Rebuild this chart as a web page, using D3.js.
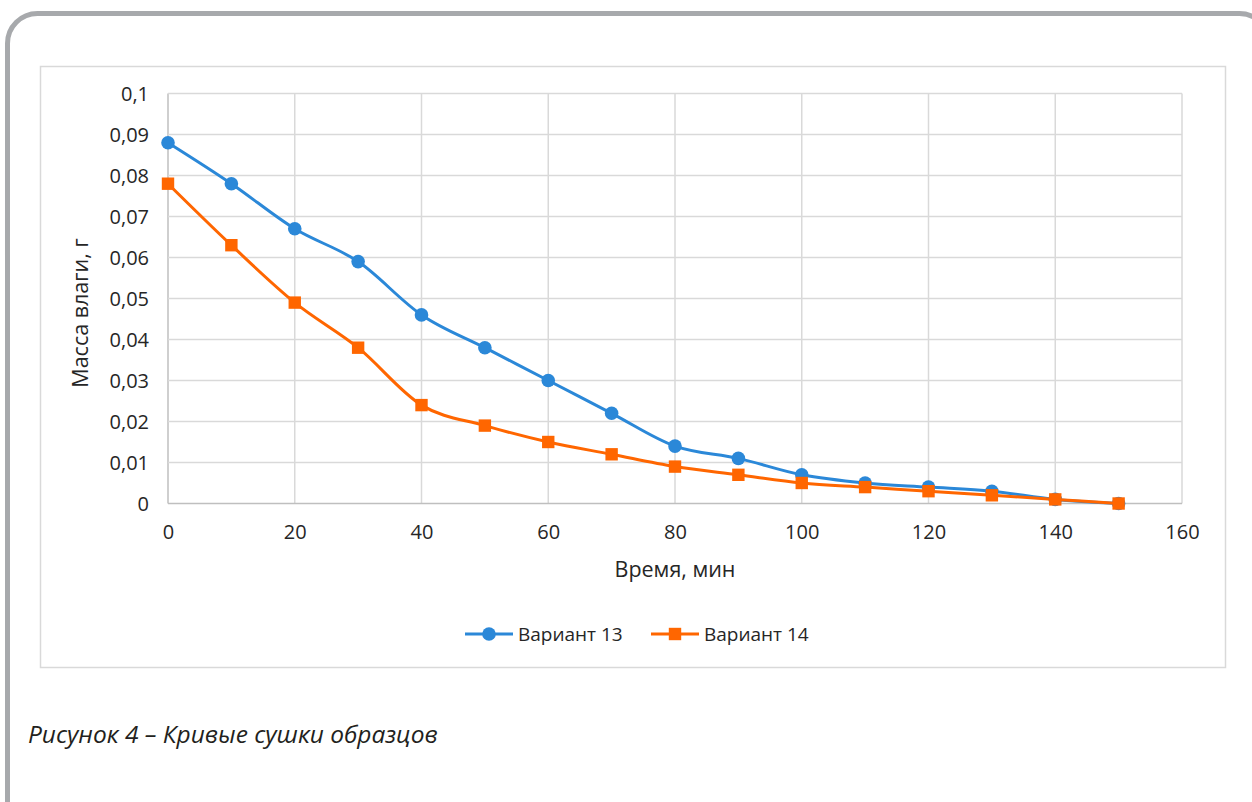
<!DOCTYPE html>
<html>
<head>
<meta charset="utf-8">
<script src="https://cdn.jsdelivr.net/npm/d3@7"></script>
<style>
  html, body { margin: 0; padding: 0; background: #fff; }
  svg { display: block; }
</style>
</head>
<body>
<svg id="chart" width="1252" height="802"></svg>
<script>
// Drying time, minutes
const timeMin = [0, 10, 20, 30, 40, 50, 60, 70, 80, 90, 100, 110, 120, 130, 140, 150];
// Moisture mass, g
const variant13 = [0.088, 0.078, 0.067, 0.059, 0.046, 0.038, 0.030, 0.022, 0.014, 0.011, 0.007, 0.005, 0.004, 0.003, 0.001, 0.000];
const variant14 = [0.078, 0.063, 0.049, 0.038, 0.024, 0.019, 0.015, 0.012, 0.009, 0.007, 0.005, 0.004, 0.003, 0.002, 0.001, 0.000];
const seriesNames = ["Вариант 13", "Вариант 14"];
const xTicks = [0, 20, 40, 60, 80, 100, 120, 140, 160];
const yTicks = [0, 0.01, 0.02, 0.03, 0.04, 0.05, 0.06, 0.07, 0.08, 0.09, 0.1];
const yTickLabels = ["0", "0,01", "0,02", "0,03", "0,04", "0,05", "0,06", "0,07", "0,08", "0,09", "0,1"];
const xTitle = "Время, мин";
const yTitle = "Масса влаги, г";
const caption = "Рисунок 4 – Кривые сушки образцов";

const FONT = "'Open Sans', 'Noto Sans', sans-serif";
const TEXT = "#262626";
const GRID = "#d9d9d9";
const AXIS = "#bfbfbf";
const BLUE = "#2b88d8";
const ORANGE = "#ff6600";

const svg = d3.select("#chart");

// Rounded frame around the figure
svg.append("rect")
  .attr("x", 7.5).attr("y", 13.5)
  .attr("width", 1262).attr("height", 820)
  .attr("rx", 30).attr("ry", 30)
  .attr("fill", "none")
  .attr("stroke", "#a7a9ac")
  .attr("stroke-width", 5);

// Chart area border
svg.append("rect")
  .attr("x", 40.5).attr("y", 66.5)
  .attr("width", 1185).attr("height", 601)
  .attr("fill", "#fff")
  .attr("stroke", GRID)
  .attr("stroke-width", 1.5);

const plot = { left: 168, right: 1182, top: 93.5, bottom: 503.5 };

const x = d3.scaleLinear().domain([0, 160]).range([plot.left, plot.right]);
const y = d3.scaleLinear().domain([0, 0.1]).range([plot.bottom, plot.top]);

// Gridlines
const g = svg.append("g");
g.selectAll("line.v").data(xTicks).join("line")
  .attr("x1", d => x(d)).attr("x2", d => x(d))
  .attr("y1", plot.top).attr("y2", plot.bottom)
  .attr("stroke", d => d === 0 ? AXIS : GRID).attr("stroke-width", 1.5);
g.selectAll("line.h").data(yTicks).join("line")
  .attr("x1", plot.left).attr("x2", plot.right)
  .attr("y1", d => y(d)).attr("y2", d => y(d))
  .attr("stroke", d => d === 0 ? AXIS : GRID).attr("stroke-width", 1.5);

// Axes (labels only, lines come from the grid)
const yAxis = svg.append("g")
  .attr("transform", `translate(${plot.left - 19},0)`)
  .call(d3.axisLeft(y).tickValues(yTicks).tickSize(0).tickFormat((d, i) => yTickLabels[i]));
const xAxis = svg.append("g")
  .attr("transform", `translate(0,${plot.bottom})`)
  .call(d3.axisBottom(x).tickValues(xTicks).tickSize(0).tickFormat(d3.format("d")));
[xAxis, yAxis].forEach(a => {
  a.select(".domain").remove();
  a.selectAll("text")
    .attr("font-family", FONT).attr("font-size", 20).attr("fill", TEXT);
});
yAxis.selectAll("text").attr("dy", "0.35em").attr("x", 0);
xAxis.selectAll("text").attr("dy", 0).attr("y", 35.5);

// Axis titles
svg.append("text")
  .attr("x", x(80)).attr("y", 577)
  .attr("text-anchor", "middle")
  .attr("font-family", FONT).attr("font-size", 21.5).attr("fill", TEXT)
  .text(xTitle);
svg.append("text")
  .attr("transform", "translate(87.5,313) rotate(-90)")
  .attr("text-anchor", "middle")
  .attr("font-family", FONT).attr("font-size", 21.5).attr("fill", TEXT)
  .text(yTitle);

// Series
const series = [
  { name: seriesNames[0], values: variant13, color: BLUE, shape: "circle" },
  { name: seriesNames[1], values: variant14, color: ORANGE, shape: "square" }
];

const line = d3.line()
  .x((d, i) => x(timeMin[i]))
  .y(d => y(d))
  .curve(d3.curveCatmullRom.alpha(0));

function drawMarker(sel, shape, color) {
  if (shape === "circle") {
    sel.append("circle").attr("r", 6.8).attr("fill", color);
  } else {
    sel.append("rect").attr("x", -6.2).attr("y", -6.2)
      .attr("width", 12.4).attr("height", 12.4).attr("fill", color);
  }
}

series.forEach(s => {
  const sg = svg.append("g");
  sg.append("path")
    .attr("d", line(s.values))
    .attr("fill", "none")
    .attr("stroke", s.color)
    .attr("stroke-width", 3)
    .attr("stroke-linejoin", "round");
  sg.selectAll("g.m").data(s.values).join("g")
    .attr("transform", (d, i) => `translate(${x(timeMin[i])},${y(d)})`)
    .each(function () { drawMarker(d3.select(this), s.shape, s.color); });
});

// Legend
const legendItems = [
  { s: series[0], x0: 465 },
  { s: series[1], x0: 651 }
];
legendItems.forEach(({ s, x0 }) => {
  const lg = svg.append("g").attr("transform", `translate(${x0},634)`);
  lg.append("line").attr("x1", 0).attr("x2", 48).attr("y1", 0).attr("y2", 0)
    .attr("stroke", s.color).attr("stroke-width", 3);
  const m = lg.append("g").attr("transform", "translate(24,0)");
  drawMarker(m, s.shape, s.color);
  lg.append("text").attr("x", 53).attr("y", 0).attr("dy", "0.35em")
    .attr("font-family", FONT).attr("font-size", 19).attr("fill", TEXT)
    .text(s.name);
});

// Figure caption
svg.append("text")
  .attr("x", 28).attr("y", 743)
  .attr("font-family", FONT).attr("font-size", 24.5)
  .attr("font-style", "italic").attr("fill", "#231f20")
  .text(caption);
</script>
</body>
</html>
